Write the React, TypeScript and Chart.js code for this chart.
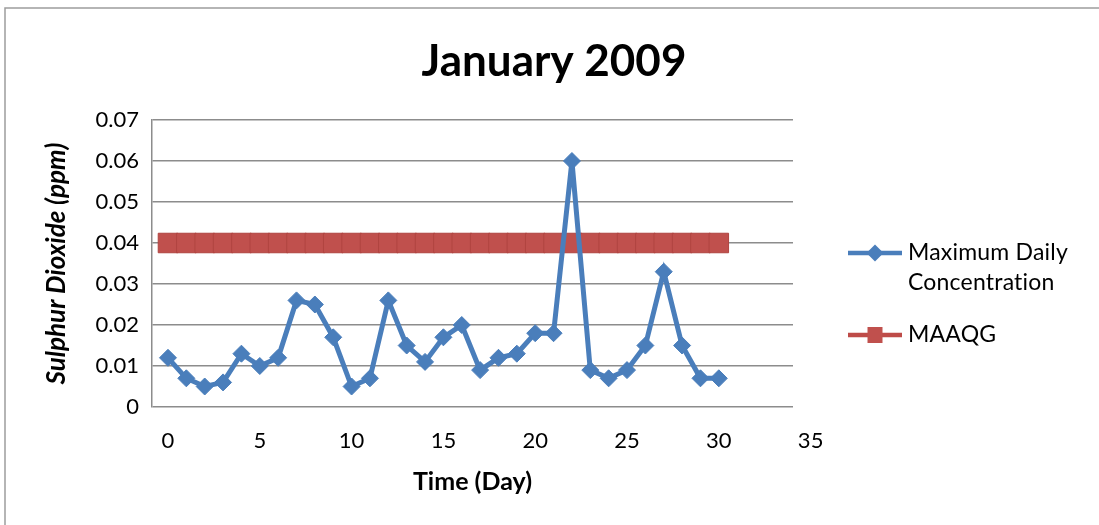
import React, { useEffect, useRef } from "react";
import { Chart, registerables } from "chart.js";

Chart.register(...registerables);

// Sampling days and the measured maximum daily SO2 concentration (ppm)
const days = [0, 1, 2, 3, 4, 5, 6, 7, 8, 9, 10, 11, 12, 13, 14, 15, 16, 17, 18, 19, 20, 21, 22, 23, 24, 25, 26, 27, 28, 29, 30];
const maxDaily = [
  0.012, 0.007, 0.005, 0.006, 0.013, 0.01, 0.012, 0.026, 0.025, 0.017, 0.005,
  0.007, 0.026, 0.015, 0.011, 0.017, 0.02, 0.009, 0.012, 0.013, 0.018, 0.018,
  0.06, 0.009, 0.007, 0.009, 0.015, 0.033, 0.015, 0.007, 0.007,
];
// Malaysian Ambient Air Quality Guideline (ppm)
const maaqg = [
  0.04, 0.04, 0.04, 0.04, 0.04, 0.04, 0.04, 0.04, 0.04, 0.04, 0.04,
  0.04, 0.04, 0.04, 0.04, 0.04, 0.04, 0.04, 0.04, 0.04, 0.04, 0.04,
  0.04, 0.04, 0.04, 0.04, 0.04, 0.04, 0.04, 0.04, 0.04,
];

const xTicks = [0, 5, 10, 15, 20, 25, 30, 35];
const yTicks = [0, 0.01, 0.02, 0.03, 0.04, 0.05, 0.06, 0.07];

const seriesNames = ["Maximum Daily Concentration", "MAAQG"];
const legendLines = [["Maximum Daily", "Concentration"], ["MAAQG"]];

const titleText = "January 2009";
const xTitle = "Time (Day)";
const yTitle = "Sulphur Dioxide (ppm)";

const FONT = "Lato, 'Open Sans', sans-serif";
const BLUE = "#4A7EBB";
const RED = "#BE4B48";
const GRID = "#8c8c8c";

const W = 1099;
const H = 525;

// Outer frame of the chart object (top and left edges visible)
const framePlugin = {
  id: "frame",
  beforeDraw(chart: any) {
    const ctx = chart.ctx;
    ctx.save();
    ctx.strokeStyle = "#9d9d9d";
    ctx.lineWidth = 1.5;
    ctx.beginPath();
    ctx.moveTo(5, H);
    ctx.lineTo(5, 8);
    ctx.lineTo(W, 8);
    ctx.stroke();
    ctx.restore();
  },
};

// Chart title, centred across the whole chart object
const titlePlugin = {
  id: "bigTitle",
  afterDraw(chart: any) {
    const ctx = chart.ctx;
    ctx.save();
    ctx.fillStyle = "#000";
    ctx.font = `bold 44px ${FONT}`;
    ctx.textAlign = "center";
    ctx.textBaseline = "middle";
    ctx.fillText(titleText, 554, 62);
    ctx.restore();
  },
};

// Legend at the right, with line + marker samples and wrapped labels
const legendPlugin = {
  id: "sideLegend",
  afterDraw(chart: any) {
    const ctx = chart.ctx;
    const x0 = 848;
    const x1 = 902;
    const xm = (x0 + x1) / 2;
    const tx = 908;
    const rows = [253, 335];
    const lineGap = 30;
    ctx.save();
    chart.data.datasets.forEach((ds: any, i: number) => {
      const y = rows[i];
      ctx.strokeStyle = ds.borderColor;
      ctx.lineWidth = 4.5;
      ctx.beginPath();
      ctx.moveTo(x0, y);
      ctx.lineTo(x1, y);
      ctx.stroke();
      ctx.fillStyle = ds.pointBackgroundColor;
      ctx.beginPath();
      if (ds.pointStyle === "rectRot") {
        const r = 8.5;
        ctx.moveTo(xm - r, y);
        ctx.lineTo(xm, y - r);
        ctx.lineTo(xm + r, y);
        ctx.lineTo(xm, y + r);
        ctx.closePath();
      } else {
        ctx.rect(xm - 7.5, y - 8, 15, 16);
      }
      ctx.fill();
      ctx.fillStyle = "#000";
      ctx.font = `23px ${FONT}`;
      // a hair of spacing keeps "ti" from joining into a ligature
      ctx.letterSpacing = "0.2px";
      ctx.textAlign = "left";
      ctx.textBaseline = "middle";
      legendLines[i].forEach((t, k) => ctx.fillText(t, tx, y + k * lineGap));
    });
    ctx.restore();
  },
};

export default function App() {
  const ref = useRef<HTMLCanvasElement>(null);

  useEffect(() => {
    if (!ref.current) return;
    const chart = new Chart(ref.current, {
      type: "scatter",
      data: {
        datasets: [
          {
            label: seriesNames[0],
            data: days.map((d, i) => ({ x: d, y: maxDaily[i] })),
            showLine: true,
            borderColor: BLUE,
            backgroundColor: BLUE,
            borderWidth: 5,
            tension: 0,
            pointStyle: "rectRot",
            pointRadius: 8.5,
            pointBackgroundColor: BLUE,
            pointBorderColor: BLUE,
            pointBorderWidth: 1,
          },
          {
            label: seriesNames[1],
            data: days.map((d, i) => ({ x: d, y: maaqg[i] })),
            showLine: true,
            borderColor: RED,
            backgroundColor: RED,
            borderWidth: 4.5,
            tension: 0,
            pointStyle: "rect",
            pointRadius: 13.8,
            pointBackgroundColor: "#C0504D",
            pointBorderColor: "#B04440",
            pointBorderWidth: 1,
          },
        ],
      } as any,
      options: {
        responsive: false,
        animation: false,
        devicePixelRatio: 1,
        events: [],
        layout: { padding: { left: 0, right: 306, top: 120, bottom: 0 } },
        plugins: {
          legend: { display: false },
          tooltip: { enabled: false },
          title: { display: false },
        },
        scales: {
          x: {
            type: "linear",
            min: -0.87,
            max: 34.04,
            bounds: "data",
            grid: { display: false, drawTicks: false },
            border: { display: false },
            ticks: {
              autoSkip: false,
              maxRotation: 0,
              padding: 21,
              color: "#000",
              font: { family: FONT, size: 22 },
              callback: (v: any) => String(v),
            },
            afterBuildTicks: (s: any) => {
              s.ticks = xTicks.map((v) => ({ value: v }));
            },
            afterFit: (s: any) => {
              s.height = 118;
            },
            title: {
              display: true,
              text: xTitle,
              color: "#000",
              font: { family: FONT, size: 25, weight: "bold" },
              padding: { top: 0, bottom: 28 },
            },
          },
          y: {
            type: "linear",
            min: 0,
            max: 0.07,
            grid: { color: GRID, lineWidth: 1.5, drawTicks: false },
            border: { color: GRID, width: 1.5 },
            ticks: {
              padding: 13,
              color: "#000",
              font: { family: FONT, size: 22 },
              callback: (v: any) => String(v),
            },
            afterBuildTicks: (s: any) => {
              s.ticks = yTicks.map((v) => ({ value: v }));
            },
            afterFit: (s: any) => {
              s.width = 152;
            },
            title: {
              display: true,
              text: yTitle,
              color: "#000",
              font: { family: FONT, size: 26, weight: "bold", style: "italic" },
              padding: { top: 41, bottom: 0 },
            },
          },
        },
      } as any,
      plugins: [framePlugin, titlePlugin, legendPlugin],
    });
    return () => chart.destroy();
  }, []);

  return (
    <div style={{ position: "fixed", left: 0, top: 0, width: W, height: H, background: "#fff" }}>
      <canvas ref={ref} width={W} height={H} style={{ display: "block" }} />
    </div>
  );
}
